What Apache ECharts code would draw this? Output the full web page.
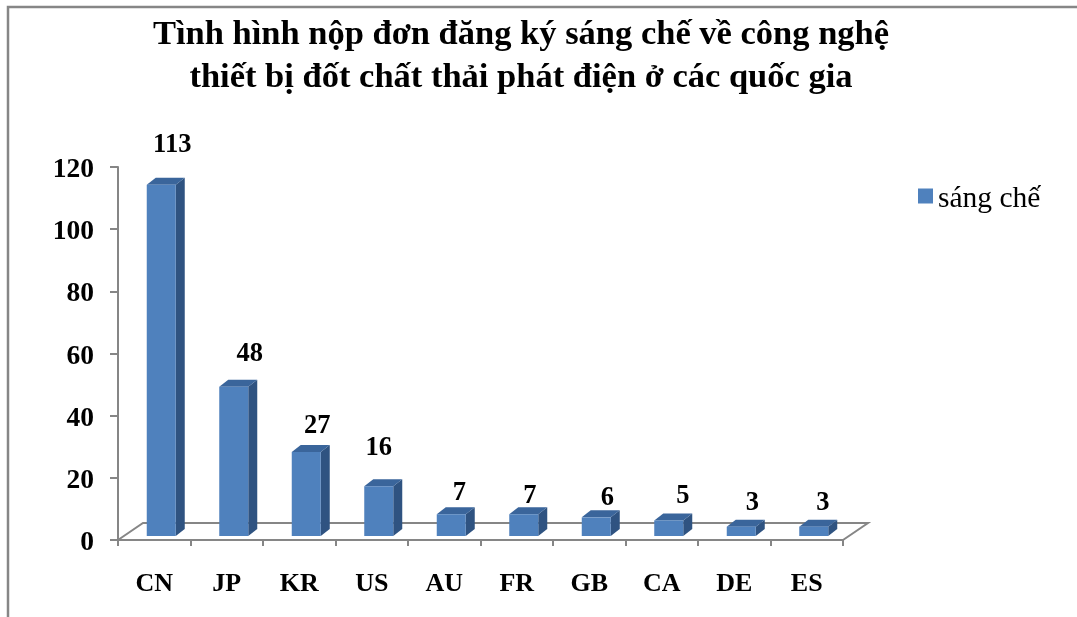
<!DOCTYPE html>
<html>
<head>
<meta charset="utf-8">
<style>html,body{margin:0;padding:0;background:#fff}#c{width:1077px;height:617px}</style>
<script src="https://cdn.jsdelivr.net/npm/echarts@6/dist/echarts.min.js"></script>
</head>
<body>
<div id="c"></div>
<script>
const categories = ['CN','JP','KR','US','AU','FR','GB','CA','DE','ES'];
const patentCounts = [113,48,27,16,7,7,6,5,3,3];
const yTickMax = 120;
const yTickStep = 20;
const seriesName = 'sáng chế';
const chartTitle = 'Tình hình nộp đơn đăng ký sáng chế về công nghệ\nthiết bị đốt chất thải phát điện ở các quốc gia';

// label nudges relative to each bar's front-top corner region (styling, not data)
const labelDx = [11,16,11,0,8,6,11,14,11,9];
const labelDy = [-40,-33,-26,-38,-21,-18,-19,-24,-24,-24];

const serif = '"Liberation Serif","Times New Roman",serif';
const grey = '#868686';
const depthX = 9, depthY = 7, barW = 29, barShiftX = 7, barShiftY = -4;
const floorDX = 25, floorDY = 17;

const chart = echarts.init(document.getElementById('c'), null, {renderer:'canvas'});

function renderFloor(params, api){
  const cs = params.coordSys;
  const x0 = cs.x, x1 = cs.x + cs.width, y = cs.y + cs.height;
  return {
    type:'polyline',
    silent:true,
    shape:{points:[[x0,y],[x0+floorDX,y-floorDY],[x1+floorDX,y-floorDY],[x1,y]]},
    style:{stroke:grey,lineWidth:2,fill:null}
  };
}

function renderBar(params, api){
  const i = api.value(0), v = api.value(1);
  const top = api.coord([i,v]);
  const base = api.coord([i,0]);
  const l = top[0] + barShiftX - barW/2, r = l + barW;
  const t = top[1] + barShiftY, b = base[1] + barShiftY;
  return {
    type:'group',
    children:[
      {type:'polygon',shape:{points:[[r,t],[r+depthX,t-depthY],[r+depthX,b-depthY],[r,b]]},style:{fill:'#2f5381'}},
      {type:'polygon',shape:{points:[[l,t],[l+depthX,t-depthY],[r+depthX,t-depthY],[r,t]]},style:{fill:'#3a659b'}},
      {type:'rect',shape:{x:l,y:t,width:barW,height:b-t},style:{fill:'#4f81bd'}},
      {type:'text',style:{
        text:String(v),
        x:top[0]+barShiftX+labelDx[params.dataIndex],
        y:t+labelDy[params.dataIndex],
        textAlign:'center',textVerticalAlign:'middle',
        fill:'#000',font:'bold 26.5px '+serif
      }}
    ]
  };
}

chart.setOption({
  animation:false,
  backgroundColor:'#fff',
  title:{
    text:chartTitle,
    left:516,top:9,textAlign:'center',
    textStyle:{fontFamily:serif,fontWeight:'bold',fontSize:34.5,lineHeight:43,color:'#000'}
  },
  legend:{
    data:[{name:seriesName,icon:'path://M0,0H15V15H0Z M0,21L0,21'}],
    left:913,top:179,itemWidth:15,itemHeight:21,itemGap:6,
    textStyle:{fontFamily:serif,fontSize:29.5,color:'#000'}
  },
  grid:{left:118,top:167,width:725,height:373,containLabel:false},
  xAxis:{
    type:'category',data:categories,boundaryGap:true,
    axisLine:{show:true,lineStyle:{color:grey,width:2}},
    axisTick:{show:true,length:6,lineStyle:{color:grey,width:2}},
    axisLabel:{interval:0,margin:31,color:'#000',fontFamily:serif,fontWeight:'bold',fontSize:26},
    splitLine:{show:false}
  },
  yAxis:{
    type:'value',min:0,max:yTickMax,interval:yTickStep,
    axisLine:{show:true,lineStyle:{color:grey,width:2}},
    axisTick:{show:true,length:8,lineStyle:{color:grey,width:2}},
    axisLabel:{margin:24,color:'#000',fontFamily:serif,fontWeight:'bold',fontSize:27.5,verticalAlign:'top',lineHeight:6},
    splitLine:{show:false}
  },
  graphic:[
    {type:'polyline',silent:true,shape:{points:[[8,617],[8,7],[1077,7]]},style:{stroke:grey,lineWidth:2.5,fill:null}}
  ],
  series:[
    {type:'custom',name:'floor',coordinateSystem:'cartesian2d',data:[[0,0]],renderItem:renderFloor,silent:true,z:1,clip:false},
    {type:'custom',name:seriesName,coordinateSystem:'cartesian2d',
     data:patentCounts.map((v,i)=>[i,v]),encode:{x:0,y:1},renderItem:renderBar,
     itemStyle:{color:'#4f81bd'},z:3,clip:false}
  ]
});
</script>
</body>
</html>
